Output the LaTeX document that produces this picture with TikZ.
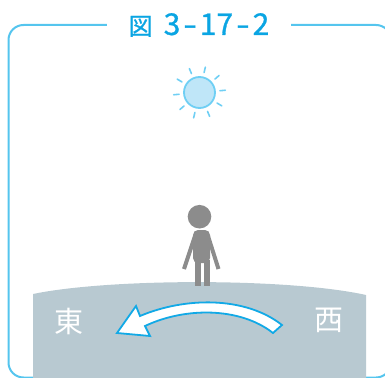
\documentclass[tikz,border=0pt]{standalone}
\usepackage{fontspec}
\newfontfamily\jp{Noto Sans CJK JP}
\newfontfamily\titlefont[AutoFakeBold=0.9]{Noto Sans CJK JP}
\definecolor{framecol}{HTML}{55C5EE}
\definecolor{titlecol}{HTML}{0AA5E3}
\definecolor{sunfill}{HTML}{BFE6F8}
\definecolor{sunline}{HTML}{6FCFF4}
\definecolor{groundcol}{HTML}{B8C9D1}
\definecolor{personcol}{HTML}{8C8C8C}
\definecolor{arrowline}{HTML}{12A9E6}
\tikzset{
  dirlabel/.style={text=white, font=\jp\fontsize{29}{29}\selectfont, inner sep=0pt},
  ray/.style={sunline, line width=1.6, line cap=round}
}
\begin{document}
\begin{tikzpicture}[x=1pt, y=-1pt]
    \useasboundingbox (0,0) rectangle (385,377);

    % frame
    \draw[framecol, line width=2, rounded corners=15] (8.5,25) rectangle (391,377.5);
    \node[fill=white, inner xsep=22, inner ysep=2, text=titlecol, font=\titlefont\bfseries] (title) at (199,25)
        {{\fontsize{24}{24}\selectfont 図}\hspace{11pt}{\fontsize{30}{30}\selectfont 3\kern3pt{\scalebox{1.3}[1]{-}}\kern3pt17\kern3pt{\scalebox{1.3}[1]{-}}\kern3pt2}};

    % sun
    \draw[sunline, fill=sunfill, line width=1.8] (199.5,92.5) circle (15.5);
    \foreach \a in {-5,31,...,319}
        \draw[ray] (199.5,92.5) ++(\a:20.5) -- ++(\a:5.5);

    % ground
    \fill[groundcol] (33,294) .. controls (110,278) and (290,278) .. (366,295)
        -- (366,380) -- (33,380) -- cycle;

    % person
    \fill[personcol] (199.5,216.7) circle (11.8);
    \fill[personcol, rounded corners=5] (193,263) -- (193,230) -- (210,230) -- (210,263) -- cycle;
    \fill[personcol] (195,260) rectangle (201,286);
    \fill[personcol] (203.5,260) rectangle (209.5,286);
    \draw[personcol, line width=4] (195,236) -- (184,269);
    \draw[personcol, line width=4] (208,236) -- (218.5,269);

    % sun path, west to east
    \filldraw[arrowline, fill=white, line width=1.8, line join=miter]
        (282,325) .. controls (245,296) and (185,297) .. (140,316)
        -- (136,306) -- (117,333) -- (150,336) -- (145,326)
        .. controls (185,307) and (240,307) .. (273,333) -- cycle;

    \node[dirlabel] (east) at (69,321) {\jp 東};
    \node[dirlabel] (west) at (329,320) {\jp 西};
\end{tikzpicture}
\end{document}
